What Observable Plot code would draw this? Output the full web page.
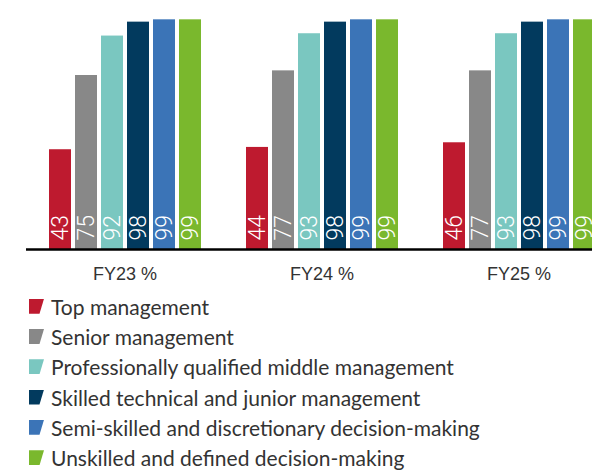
<!DOCTYPE html>
<html><head><meta charset="utf-8">
<script src="https://cdn.jsdelivr.net/npm/d3@7"></script>
<script src="https://cdn.jsdelivr.net/npm/@observablehq/plot@0.6"></script>
<style>
html,body{margin:0;padding:0;overflow:hidden;background:#fff;}
#chart{width:618px;height:291px}
#chart svg{display:block;overflow:visible;max-width:none !important;width:618px !important;height:291px !important}
.legend{font-family:Lato, sans-serif;font-size:21px;color:#333;}
.row{height:30.3px;display:flex;align-items:center;padding-left:29px;white-space:nowrap}
.sw{width:15px;height:15px;clip-path:polygon(0 0,100% 0,70% 100%,0 100%);margin-right:7px;flex:none}
</style></head><body><div id="chart"></div><div class="legend" id="legend"></div>
<script>
const years = ["FY23 %", "FY24 %", "FY25 %"];
const categories = [
  "Top management",
  "Senior management",
  "Professionally qualified middle management",
  "Skilled technical and junior management",
  "Semi-skilled and discretionary decision-making",
  "Unskilled and defined decision-making"
];
const colors = ["#BE1A2F", "#888888", "#7AC7C0", "#023A5E", "#3B74B7", "#7AB82D"];
const topManagement = [43, 44, 46];
const seniorManagement = [75, 77, 77];
const profQualified = [92, 93, 93];
const skilledTechnical = [98, 98, 98];
const semiSkilled = [99, 99, 99];
const unskilled = [99, 99, 99];
const series = [topManagement, seniorManagement, profQualified, skilledTechnical, semiSkilled, unskilled];

const data = [];
years.forEach((yr, i) => categories.forEach((c, j) => data.push({year: yr, cat: c, value: series[j][i]})));

const chart = Plot.plot({
  width: 618, height: 291,
  marginLeft: 25, marginRight: 0, marginTop: 17, marginBottom: 42,
  style: {fontFamily: "'Liberation Sans', Arial, sans-serif", background: "white", overflow: "visible", maxWidth: "none"},
  fx: {domain: years, padding: 0, label: null},
  x: {domain: categories, paddingInner: 0.17, paddingOuter: 0.81, axis: null},
  y: {domain: [0, 100], axis: null},
  color: {domain: categories, range: colors},
  marks: [
    Plot.barY(data, {fx: "year", x: "cat", y: "value", fill: "cat"}),
    Plot.text(data, {fx: "year", x: "cat", y: 0, text: d => String(d.value), rotate: -90, textAnchor: "start",
      dy: -9, fill: "white", fontSize: 23, fontFamily: "Roboto, sans-serif", fontWeight: 300}),
    Plot.ruleY([0], {stroke: "black", strokeWidth: 2.5}),
    Plot.axisFx({anchor: "bottom", tickSize: 0, tickPadding: 18, fontSize: 18, color: "#333", label: null})
  ]
});
document.getElementById("chart").append(chart);

const legend = document.getElementById("legend");
categories.forEach((c, j) => {
  const row = document.createElement("div");
  row.className = "row";
  const sw = document.createElement("span");
  sw.className = "sw";
  sw.style.background = colors[j];
  const t = document.createElement("span");
  t.textContent = c;
  row.append(sw, t);
  legend.append(row);
});
</script>
</body></html>
